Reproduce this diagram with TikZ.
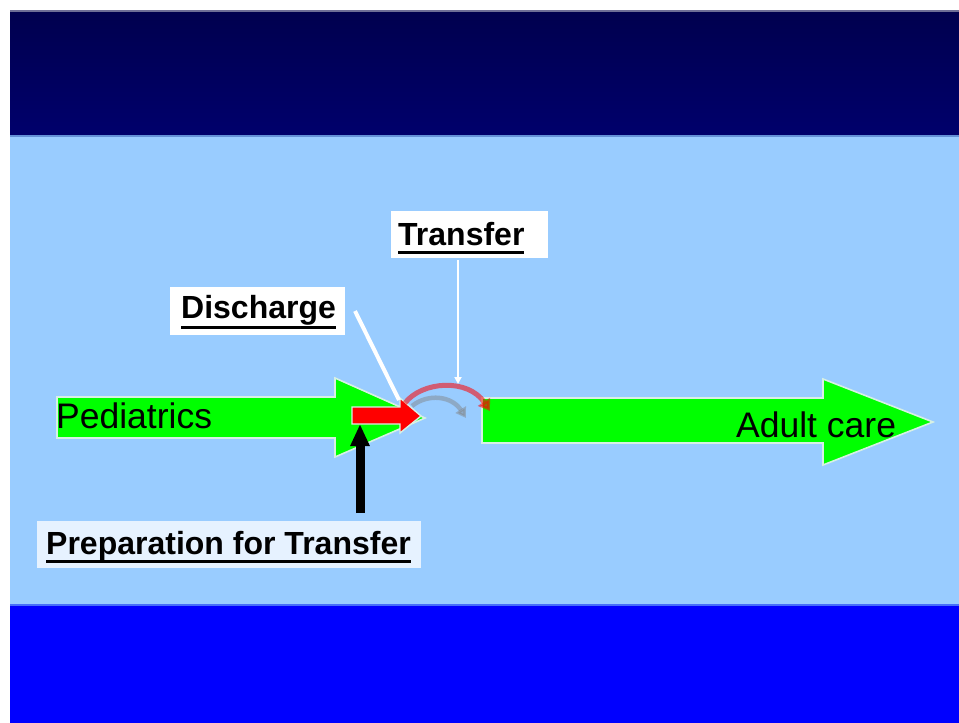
\documentclass[tikz,border=0pt]{standalone}
\usepackage{fontspec}
\setmainfont{Liberation Sans}
\usetikzlibrary{arrows.meta}
\definecolor{navyA}{RGB}{0,0,78}
\definecolor{navyB}{RGB}{0,0,108}
\definecolor{skyb}{RGB}{153,204,255}
\definecolor{pureblue}{RGB}{0,0,255}
\definecolor{arrgreen}{RGB}{0,255,0}
\definecolor{rimc}{RGB}{215,240,228}
\definecolor{prepfill}{RGB}{230,242,255}
\newcommand\myul[2]{\setbox0=\hbox{#2}\rlap{\rule[#1]{\wd0}{3pt}}\box0}
\tikzset{
  bigarrow/.style={fill=arrgreen, draw=rimc, line width=1.6pt, line join=miter},
  redarrow/.style={fill=red, draw=rimc, line width=1.4pt},
  lbltext/.style={inner sep=0pt, anchor=base west, font=\fontsize{32}{36}\selectfont\bfseries},
  arrtext/.style={inner sep=0pt, anchor=base west, font=\fontsize{35.5}{40}\selectfont},
}
\begin{document}
\begin{tikzpicture}[x=1pt,y=-1pt]
\useasboundingbox (0,0) rectangle (959,723);
\fill[white] (0,0) rectangle (959,723);
% bands
\shade[top color=navyA, bottom color=navyB] (10,10) rectangle (959,136);
\fill[skyb] (10,136) rectangle (959,605);
\fill[pureblue] (10,605) rectangle (959,723);
\draw[color={rgb,255:red,110;green,110;blue,150}, line width=2pt] (10,11) -- (959,11);
\draw[color={rgb,255:red,100;green,145;blue,215}, line width=2pt] (10,136) -- (959,136);
\draw[color={rgb,255:red,70;green,110;blue,250}, line width=2pt] (10,605) -- (959,605);

% green arrows
\draw[bigarrow] (57,397) -- (335,397) -- (335,378) -- (425,418) -- (335,457) -- (335,438) -- (57,438) -- cycle;
\draw[bigarrow] (482,398) -- (823,398) -- (823,379) -- (933,422) -- (823,465) -- (823,443) -- (482,443) -- cycle;
\node[arrtext] (ped) at (56,428) {Pediatrics};
\node[arrtext] (adult) at (736,437) {Adult care};

% red arrow
\draw[redarrow] (352,407) -- (400,407) -- (400,398) -- (421,416) -- (400,433) -- (400,424) -- (352,424) -- cycle;
\coordinate (redbase) at (360,424);

% curved transfer arrow with shadow
\coordinate (cvA) at (405,403);
\coordinate (cvB) at (490,411);
\coordinate (shA) at (412,406);
\coordinate (shB) at (466,418);
\draw[gray, opacity=0.45, line width=4.5pt, -{Triangle[width=12pt,length=10pt]}] (shA) .. controls (428,393) and (452,396) .. (shB);
\draw[red, opacity=0.55, line width=5pt, -{Triangle[width=14pt,length=11pt]}] (cvA) .. controls (422,381) and (468,378) .. (cvB);

% labels
\node[fill=white, inner sep=0pt, minimum width=175pt, minimum height=48pt] (disbox) at (257.5,311) {};
\node[lbltext] (dis) at (181,318) {\myul{-10.5pt}{Discharge}};
\node[fill=white, inner sep=0pt, minimum width=157pt, minimum height=47pt] (trbox) at (469.5,234.5) {};
\node[lbltext] (tr) at (398,245) {\myul{-9pt}{Transfer}};
\node[fill=prepfill, inner sep=0pt, minimum width=384pt, minimum height=47pt] (prepbox) at (229,544.5) {};
\node[lbltext] (prep) at (46,554) {\myul{-9pt}{Preparation for Transfer}};

% pointers
\coordinate (disstart) at (355,311);
\coordinate (disend) at (399,400);
\coordinate (trstart) at (458,260);
\coordinate (trend) at (458,384);
\coordinate (blackstart) at (360,513);
\draw[white, line width=4pt] (disstart) -- (disend);
\draw[white, line width=2.2pt, -{Triangle[width=7pt,length=7pt]}] (trstart) -- (trend);
\draw[black, line width=9pt, -{Triangle[width=18pt,length=22pt]}] (blackstart) -- (redbase);
\end{tikzpicture}
\end{document}
